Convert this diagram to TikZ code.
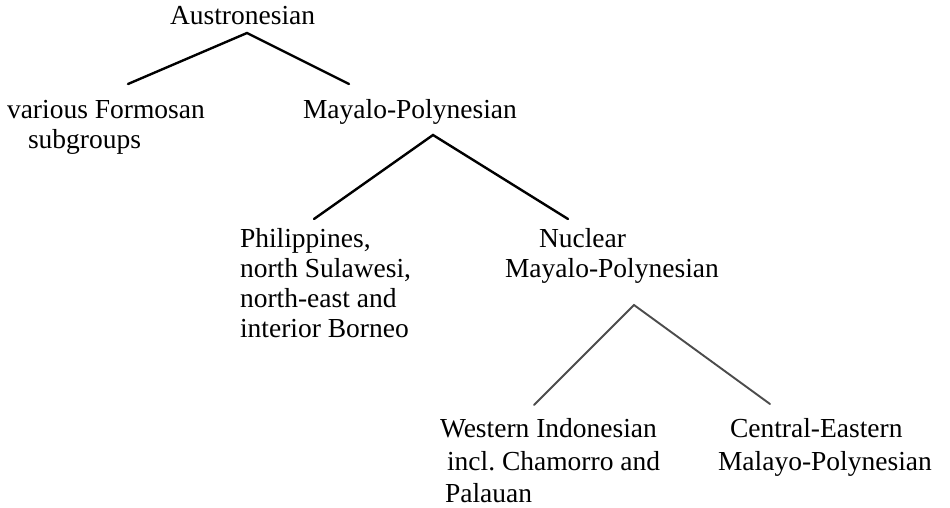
\documentclass[tikz,border=0pt]{standalone}
\usepackage{fontspec}
\setmainfont{Liberation Serif}
\begin{document}
\begin{tikzpicture}[x=1pt,y=-1pt,
  lbl/.style={anchor=base west,inner sep=0pt,outer sep=0pt,font=\fontsize{27.5}{31}\selectfont},
  branch/.style={line width=2.4pt,line cap=round,line join=miter,black},
  graybranch/.style={line width=1.9pt,line cap=round,black!70}]
\useasboundingbox[fill=white] (0,0) rectangle (950,508);
% labels
\node[lbl] (aus) at (170,25) {Austronesian};
\node[lbl] (form1) at (7,119) {various Formosan};
\node[lbl] (form2) at (28,148) {subgroups};
\node[lbl] (mp) at (303,119) {Mayalo-Polynesian};
\node[lbl] (ph1) at (240,247) {Philippines,};
\node[lbl] (ph2) at (240,277) {north Sulawesi,};
\node[lbl] (ph3) at (240,307) {north-east and};
\node[lbl] (ph4) at (240,337) {interior Borneo};
\node[lbl] (nmp1) at (539,247) {Nuclear};
\node[lbl] (nmp2) at (505,277) {Mayalo-Polynesian};
\node[lbl] (wi1) at (440,437) {Western Indonesian};
\node[lbl] (wi2) at (447,470) {incl.\ Chamorro and};
\node[lbl] (wi3) at (445,502) {Palauan};
\node[lbl] (ce1) at (730,437) {Central-Eastern};
\node[lbl] (ce2) at (718,470) {Malayo-Polynesian};
% connector points
\coordinate (a0) at (247,33);
\coordinate (a1) at (128,84);
\coordinate (a2) at (349,84);
\coordinate (b0) at (433,135);
\coordinate (b1) at (314,219);
\coordinate (b2) at (568,219);
\coordinate (c0) at (634,305);
\coordinate (c1) at (534,405);
\coordinate (c2) at (770,404);
\draw[branch] (a1) -- (a0) -- (a2);
\draw[branch] (b1) -- (b0) -- (b2);
\draw[graybranch] (c1) -- (c0) -- (c2);
\end{tikzpicture}
\end{document}
